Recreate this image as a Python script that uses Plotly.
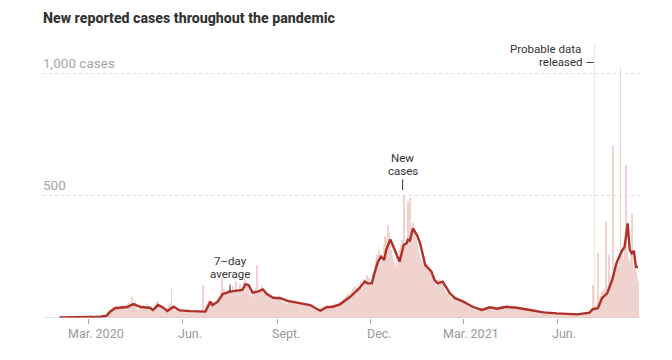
import pandas as pd
import plotly.graph_objects as go

# ---- Data ----
start_date = "2020-02-01"

feb20 = [0,0,0,1,0,0,1,0,0,1,0,1,0,0,1,2,0,1,0,2,1,0,2,3,1,2,0,3,2]
mar20 = [3,2,4,5,3,4,6,2,5,7,4,6,8,5,7,10,9,12,15,20,26,30,24,35,40,44,38,52,46,41,48]
apr20 = [45,38,52,30,41,50,47,55,36,62,48,58,88,60,52,70,44,40,35,55,49,38,51,47,30,42,56,40,48,36]
may20 = [40,28,30,35,48,62,58,70,44,50,38,45,26,30,22,34,28,40,52,60,127,48,42,35,30,36,28,32,25,38,30]
jun20 = [30,25,34,28,22,35,30,24,33,20,28,31,26,22,35,27,30,24,29,32,135,22,28,40,60,72,80,58,66,50]
jul20 = [48,62,55,70,75,82,60,110,164,95,120,88,105,100,118,92,125,98,110,130,95,112,150,105,120,88,140,118,110,125,148]
aug20 = [160,130,145,120,95,110,88,100,115,92,125,217,98,105,110,120,130,95,108,85,100,90,78,95,82,70,88,80,75,90,72]
sep20 = [85,78,92,70,80,65,75,60,72,80,58,68,75,62,70,55,66,60,72,50,64,58,62,55,48,60,52,58,45,55]
oct20 = [50,58,45,52,40,35,30,38,32,25,28,35,40,48,42,50,38,45,52,40,48,44,38,50,55,42,60,48,58,52,62]
nov20 = [55,68,60,72,80,65,90,85,100,78,95,110,88,120,105,130,98,125,140,115,150,135,120,160,145,130,175,150,165,140]
dec20 = [150,135,180,160,210,240,260,230,280,250,230,220,260,300,335,330,320,380,350,300,280,260,240,230,210,250,220,240,280,300,320]
jan21 = [280,504,310,290,320,477,340,492,380,360,390,340,350,320,300,280,260,250,240,220,200,230,210,190,220,200,180,210,190,170,160]
feb21 = [150,140,130,155,145,160,150,135,140,120,110,100,95,105,90,85,80,75,88,70,78,65,72,60,70,58,65,62]
mar21 = [65,60,55,70,50,48,45,52,40,38,42,35,30,38,32,28,35,30,33,28,36,40,45,38,50,42,46,48,40,38,44]
apr21 = [40,35,38,42,36,48,50,44,52,40,38,46,55,42,48,40,45,50,38,44,40,36,42,38,45,35,40,32,38,34]
may21 = [36,30,35,28,32,30,26,34,25,28,22,26,24,20,28,22,25,18,22,24,20,18,22,16,20,24,18,20,15,22,18]
jun21 = [18,16,20,14,18,22,15,16,14,12,18,15,20,13,16,14,12,15,18,14,16,13,18,20,15,22,18,16,24,20]
jul21 = [20,25,18,30,135,40,45,50,60,266,70,85,90,110,80,120,95,393,130,100,258,150,170,140,709,180,200,190,230,210,250]
aug21 = [1025,260,280,240,300,627,270,250,230,220,260,430,200,180,210,190,170,150]

daily_cases = (feb20 + mar20 + apr20 + may20 + jun20 + jul20 + aug20 + sep20 + oct20
               + nov20 + dec20 + jan21 + feb21 + mar21 + apr21 + may21 + jun21 + jul21 + aug21)

probable_dates = ["2021-07-07"]
probable_values = [1127]

avg_dates = ["2020-02-02","2020-03-13","2020-03-19","2020-03-22","2020-03-27","2020-04-01","2020-04-08",
             "2020-04-14","2020-04-18","2020-04-21","2020-04-27","2020-04-30","2020-05-03","2020-05-08",
             "2020-05-12","2020-05-17","2020-05-23","2020-05-26","2020-05-29","2020-06-08","2020-06-21",
             "2020-06-23","2020-06-28","2020-06-30","2020-07-05","2020-07-10","2020-07-17","2020-07-24",
             "2020-07-29","2020-08-01","2020-08-04","2020-08-08","2020-08-13","2020-08-18","2020-08-22",
             "2020-08-28","2020-09-04","2020-09-11","2020-09-15","2020-09-23","2020-10-03","2020-10-10",
             "2020-10-13","2020-10-19","2020-10-25","2020-11-01","2020-11-11",
             "2020-11-20","2020-11-25","2020-11-28","2020-12-02","2020-12-05","2020-12-08","2020-12-11",
             "2020-12-14","2020-12-16","2020-12-20","2020-12-23","2020-12-25","2020-12-29","2021-01-02",
             "2021-01-05","2021-01-06","2021-01-08","2021-01-11","2021-01-15","2021-01-18","2021-01-23",
             "2021-01-26","2021-01-29","2021-02-01","2021-02-04",
             "2021-02-09","2021-02-16","2021-02-21","2021-03-01","2021-03-10",
             "2021-03-19","2021-03-27","2021-04-03","2021-04-12","2021-04-22","2021-05-05","2021-05-18",
             "2021-05-31","2021-06-20","2021-07-02","2021-07-05","2021-07-10","2021-07-14","2021-07-19",
             "2021-07-24","2021-07-28","2021-08-02","2021-08-05","2021-08-08","2021-08-10","2021-08-12",
             "2021-08-14","2021-08-16","2021-08-18"]
avg_values = [2,5,10,25,40,42,45,
              57,50,45,43,42,33,53,
              45,29,46,38,31,28,28,
              26,67,53,67,98,108,112,
              115,138,135,104,108,117,98,
              83,81,70,67,60,53,36,
              30,44,46,56,87,
              122,149,142,142,190,231,251,
              238,279,322,292,272,231,299,
              306,320,317,367,340,306,217,
              204,190,156,142,
              149,101,81,67,46,
              33,44,38,46,42,33,23,
              19,15,22,36,40,81,101,
              156,224,272,292,388,279,265,
              276,210,208]

x_tick_vals = ["2020-03-01","2020-06-01","2020-09-01","2020-12-01","2021-03-01","2021-06-01"]
x_label_vals = ["2020-03-09","2020-06-08","2020-09-09","2020-12-09","2021-03-09","2021-06-07"]
x_tick_text = ["Mar. 2020","Jun.","Sept.","Dec.","Mar. 2021","Jun."]
y_grid_vals = [500, 1000]
y_grid_text = ["500", "1,000 cases"]

# ---- Figure ----
# the page body adds an 8px offset; margins below compensate for it
OFF = 8
W, H = 672, 360
Y_MAX = 1139
PLOT_H = 278
dates = pd.date_range(start_date, periods=len(daily_cases), freq="D")


def val_at(py):
    """convert a pixel row of the reference (page coords) into a y-axis value"""
    return (318 - py) * Y_MAX / PLOT_H


def paper_x(px):
    return (px - 43) / 597


fig = go.Figure()
fig.add_trace(go.Bar(x=probable_dates, y=probable_values, marker=dict(color="#f2e8d8", line=dict(width=0)),
                     hoverinfo="skip", showlegend=False))
fig.add_trace(go.Bar(x=dates, y=daily_cases, marker=dict(color="#f0d3ce", line=dict(width=0)),
                     hoverinfo="skip", showlegend=False))
fig.add_trace(go.Scatter(x=avg_dates, y=avg_values, mode="lines",
                         line=dict(color="#b0302a", width=2.4), hoverinfo="skip", showlegend=False))

FONT = "Roboto, Arial, sans-serif"
ANN_FONT = dict(family=FONT, size=11.5, color="#333333")

annotations = []
for v, t in zip(y_grid_vals, y_grid_text):
    annotations.append(dict(x=0, xref="paper", y=v, yref="y", text=t, showarrow=False,
                            xanchor="left", yanchor="bottom", yshift=1, xshift=-2,
                            font=dict(family=FONT, size=13.5, color="#a6a6a6")))
for xv, t in zip(x_label_vals, x_tick_text):
    annotations.append(dict(x=xv, xref="x", y=0, yref="paper", text=t, showarrow=False,
                            xanchor="center", yanchor="top", yshift=-6,
                            font=dict(family=FONT, size=12.5, color="#999999")))

annotations += [
    dict(x="2020-07-17", y=val_at(261.3), xref="x", yref="y", text="7–day", showarrow=False,
         xanchor="center", yanchor="middle", font=ANN_FONT, borderpad=0),
    dict(x="2020-07-17", y=val_at(274.0), xref="x", yref="y", text="average", showarrow=False,
         xanchor="center", yanchor="middle", font=ANN_FONT, borderpad=0),
    dict(x="2021-01-01", y=val_at(158.3), xref="x", yref="y", text="New", showarrow=False,
         xanchor="center", yanchor="middle", font=ANN_FONT, borderpad=0),
    dict(x="2021-01-01", y=val_at(170.9), xref="x", yref="y", text="cases", showarrow=False,
         xanchor="center", yanchor="middle", font=ANN_FONT, borderpad=0),
    dict(x=paper_x(582), y=val_at(49.3), xref="paper", yref="y", text="Probable data", showarrow=False,
         xanchor="right", yanchor="middle", font=ANN_FONT, borderpad=0),
    dict(x=paper_x(595), y=val_at(61.9), xref="paper", yref="y", text="released —", showarrow=False,
         xanchor="right", yanchor="middle", font=ANN_FONT, borderpad=0),
]

shapes = [
    dict(type="line", xref="paper", yref="y", x0=0, x1=1, y0=0, y1=0, line=dict(color="#cccccc", width=1)),
    dict(type="line", xref="x", yref="y", x0="2020-07-17", x1="2020-07-17", y0=val_at(284.5), y1=val_at(292),
         line=dict(color="#333333", width=1)),
    dict(type="line", xref="x", yref="y", x0="2021-01-01", x1="2021-01-01", y0=val_at(179.5), y1=val_at(190),
         line=dict(color="#333333", width=1)),
]

fig.update_layout(
    width=W, height=H,
    margin=dict(l=43 - OFF, r=32 + OFF, t=40 - OFF, b=42 + OFF),
    paper_bgcolor="white", plot_bgcolor="white",
    barmode="overlay", bargap=0.15,
    title=dict(text="New reported cases throughout the pandemic", x=(43 - OFF) / W, xanchor="left",
               y=1 - (18 - OFF) / H, yanchor="middle",
               font=dict(family=FONT, size=14.2, color="#333333", weight=800)),
    xaxis=dict(range=["2020-01-17", "2021-08-20"], showgrid=False, zeroline=False, showline=False,
               tickmode="array", tickvals=x_tick_vals, showticklabels=False,
               ticks="outside", ticklen=5, tickcolor="#aaaaaa", tickwidth=1),
    yaxis=dict(range=[0, Y_MAX], tickmode="array", tickvals=y_grid_vals, showticklabels=False,
               showgrid=True, gridcolor="#dddddd", griddash="dot", gridwidth=1, zeroline=False),
    annotations=annotations, shapes=shapes,
)

fig.write_html("out.html")
